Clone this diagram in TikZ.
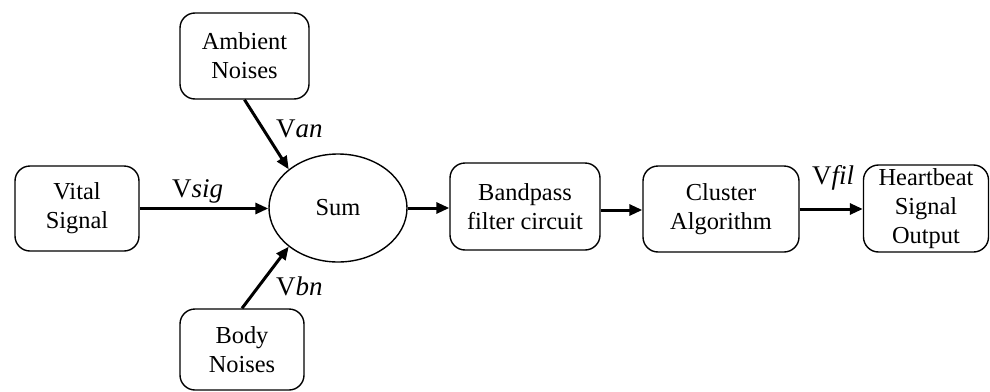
\documentclass[tikz,border=0pt]{standalone}
\usepackage{fontspec}
\setmainfont{Liberation Serif}
\usetikzlibrary{arrows.meta,shapes.geometric}
\begin{document}
\begin{tikzpicture}[x=1pt,y=-1pt,
  blk/.style={draw=black,line width=1.4pt,rounded corners=15pt,align=center,inner sep=0pt,
    font=\fontsize{24.4}{29}\selectfont},
  conn/.style={line width=3pt,-{Triangle[length=13pt,width=11pt]}},
  lbl/.style={anchor=base west,inner sep=0pt,font=\fontsize{27}{31}\selectfont}]
\useasboundingbox (0,0) rectangle (990,391);
\node[blk,minimum width=124pt,minimum height=85pt] (vital) at (77,208.5) {Vital\\Signal};
\node[blk,minimum width=129pt,minimum height=86pt] (amb) at (244.5,56) {Ambient\\Noises};
\node[blk,minimum width=124pt,minimum height=81pt] (body) at (242,349.5) {Body\\Noises};
\node[draw=black,line width=1.4pt,ellipse,minimum width=138pt,minimum height=108pt,inner sep=0pt,
  font=\fontsize{24.4}{29}\selectfont] (sum) at (338,208) {Sum};
\node[blk,minimum width=150pt,minimum height=87pt] (band) at (525,206.5) {Bandpass\\filter circuit};
\node[blk,minimum width=156pt,minimum height=86pt] (clus) at (721,209) {Cluster\\Algorithm};
\node[blk,minimum width=125pt,minimum height=87pt] (heart) at (926,208.5) {Heartbeat\\Signal\\Output};
\draw[conn] (vital.east) -- (vital.east -| sum.west);
\draw[conn] (amb.south) -- (sum.north west);
\draw[conn] (body.north) -- (sum.south west);
\draw[conn] (sum.east) -- (sum.east -| band.west);
\draw[conn] (band.east |- 0,210) -- (clus.west |- 0,210);
\draw[conn] (clus.east |- 0,209) -- (heart.west |- 0,209);
\node[lbl] (lsig) at (172,197) {V\textit{sig}};
\node[lbl] (lan) at (276,137) {V\textit{an}};
\node[lbl] (lbn) at (276,295) {V\textit{bn}};
\node[lbl] (lfil) at (812,184) {V\textit{fil}};
\end{tikzpicture}
\end{document}
